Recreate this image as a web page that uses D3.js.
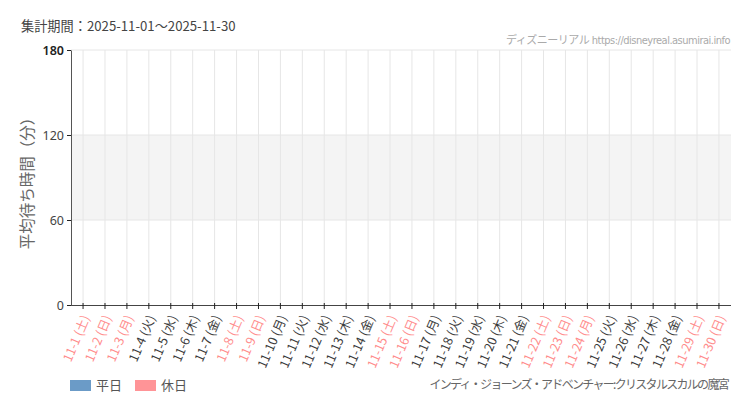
<!DOCTYPE html>
<html><head><meta charset="utf-8">
<script src="https://cdn.jsdelivr.net/npm/d3@7/dist/d3.min.js"></script>
<style>
html,body{margin:0;padding:0;background:#fff;}
svg{display:block;font-family:"Noto Sans CJK JP","Noto Sans",sans-serif;}
</style></head>
<body>
<svg id="c" width="750" height="410"></svg>
<script>
// ---- data ----
const dates = ["11-1","11-2","11-3","11-4","11-5","11-6","11-7","11-8","11-9","11-10",
  "11-11","11-12","11-13","11-14","11-15","11-16","11-17","11-18","11-19","11-20",
  "11-21","11-22","11-23","11-24","11-25","11-26","11-27","11-28","11-29","11-30"];
const weekdays = ["土","日","月","火","水","木","金","土","日","月",
  "火","水","木","金","土","日","月","火","水","木",
  "金","土","日","月","火","水","木","金","土","日"];
const holidayFlags = [1,1,1,0,0,0,0,1,1,0, 0,0,0,0,1,1,0,0,0,0, 0,1,1,1,0,0,0,0,1,1];
// average wait times (minutes): no data recorded for this period
const waitTimes = [null,null,null,null,null,null,null,null,null,null,
  null,null,null,null,null,null,null,null,null,null,
  null,null,null,null,null,null,null,null,null,null];
const yTicks = [0,60,120,180];
const legendLabels = ["平日","休日"];
const titleText = "集計期間：2025-11-01～2025-11-30";
const sourceText = "ディズニーリアル https://disneyreal.asumirai.info";
const attractionText = "インディ・ジョーンズ・アドベンチャー:クリスタルスカルの魔宮";
const yLabel = "平均待ち時間（分）";

const colWeekday = "#6b9bc7", colHoliday = "#ff9497", colHolidayText = "#ff8c8c";

const svg = d3.select("#c");
const L = 71, R = 731, T = 50, B = 305;
const labels = dates.map((d,i)=>d+" ("+weekdays[i]+")");
const x = d3.scaleBand().domain(labels).range([L,R]).padding(0.1);
const y = d3.scaleLinear().domain([0,180]).range([B,T]);
const cx = d => x(d) + x.bandwidth()/2;

// shaded band 60-120
svg.append("rect").attr("x",L).attr("width",R-L)
  .attr("y",y(120)).attr("height",y(60)-y(120)).attr("fill","#f4f4f4");

// gridlines
const g = svg.append("g");
g.selectAll(".vg").data(labels).join("line")
  .attr("x1",cx).attr("x2",cx).attr("y1",T).attr("y2",B)
  .attr("stroke","#e6e6e6").attr("stroke-width",1);
g.selectAll(".hg").data(yTicks.filter(t=>t>0)).join("line")
  .attr("x1",L).attr("x2",R).attr("y1",d=>y(d)).attr("y2",d=>y(d))
  .attr("stroke","#e6e6e6").attr("stroke-width",1);

// bars
svg.append("g").selectAll("rect").data(waitTimes.map((v,i)=>({v,i})).filter(d=>d.v!=null))
  .join("rect")
  .attr("x",d=>x(labels[d.i])).attr("width",x.bandwidth())
  .attr("y",d=>y(d.v)).attr("height",d=>B-y(d.v))
  .attr("fill",d=>holidayFlags[d.i]?colHoliday:colWeekday);

// x axis
const xa = svg.append("g").attr("transform",`translate(0,${B})`)
  .call(d3.axisBottom(x).tickSize(4).tickSizeOuter(0).tickFormat(""));
xa.select(".domain").attr("stroke","#444").attr("d",`M${L},0.5H${R}`);
xa.selectAll(".tick line").attr("stroke","#222").attr("y1",-2).attr("y2",4);
svg.append("g").selectAll("text").data(labels).join("text")
  .attr("transform",d=>`translate(${cx(d)+3},${B+11}) rotate(-67)`)
  .attr("text-anchor","end").attr("dy","0.35em")
  .attr("font-size",12.5)
  .attr("fill",(d,i)=>holidayFlags[i]?colHolidayText:"#3a3a3a")
  .text(d=>d);

// y axis
const ya = svg.append("g").attr("transform",`translate(${L},0)`)
  .call(d3.axisLeft(y).tickValues(yTicks).tickSize(4).tickSizeOuter(0));
ya.select(".domain").attr("stroke","#555");
ya.selectAll(".tick line").attr("stroke","#222");
ya.selectAll(".tick text").attr("x",-7).attr("font-size",12.5)
  .attr("font-family","'Noto Sans','Noto Sans CJK JP',sans-serif")
  .attr("fill",d=>d===180?"#222":"#444").attr("font-weight",d=>d===180?"600":"normal");

// y label
svg.append("text").attr("transform",`translate(33,${(T+B)/2+2}) rotate(-90)`)
  .attr("text-anchor","middle").attr("font-size",15.5).attr("fill","#666")
  .text(yLabel);

// title
svg.append("text").attr("x",21).attr("y",31).attr("font-size",13.2).attr("fill","#444")
  .text(titleText);
// source
svg.append("text").attr("x",730).attr("y",44).attr("text-anchor","end")
  .style("font-family","'DejaVu Sans Condensed','Noto Sans CJK JP',sans-serif")
  .style("font-size","11px").style("letter-spacing","-0.5px").attr("fill","#aaa")
  .text(sourceText);
// attraction
svg.append("text").attr("x",728).attr("y",389).attr("text-anchor","end")
  .style("font-size","12px").style("letter-spacing","-1.7px").attr("fill","#666")
  .text(attractionText);

// legend
const lg = svg.append("g");
const lx = [70,135];
legendLabels.forEach((t,i)=>{
  lg.append("rect").attr("x",lx[i]).attr("y",380).attr("width",21).attr("height",11)
    .attr("fill",i?colHoliday:colWeekday);
  lg.append("text").attr("x",lx[i]+26).attr("y",390).attr("font-size",13)
    .attr("fill","#555").text(t);
});
</script>
</body></html>
